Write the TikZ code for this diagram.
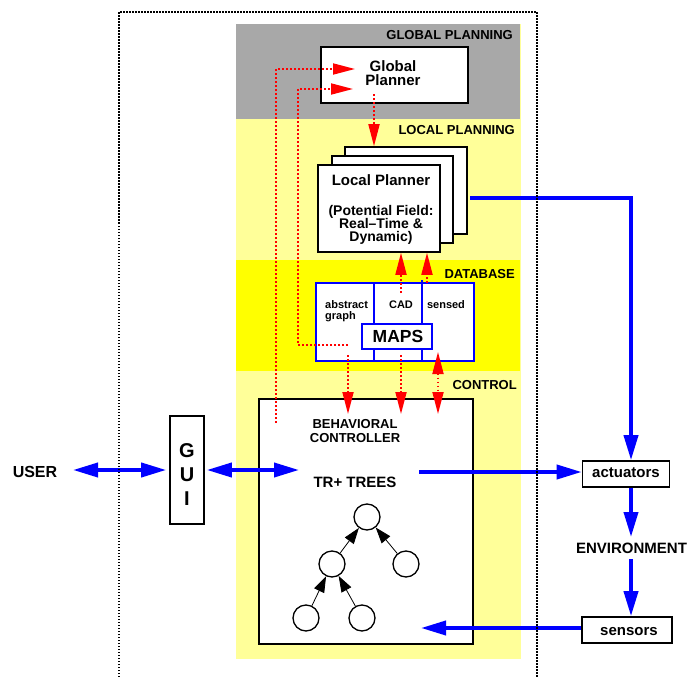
\documentclass[tikz,border=0pt]{standalone}
\usepackage{fontspec}
\setmainfont{Liberation Sans}
\usetikzlibrary{arrows.meta}
\definecolor{bandgray}{RGB}{168,168,168}
\definecolor{paleyellow}{RGB}{255,255,153}
\definecolor{dbyellow}{RGB}{255,255,0}
\tikzset{
  bluetip/.tip={Triangle[length=25pt,width=14pt]},
  redtip/.tip={Triangle[length=22pt,width=11pt]},
  treetip/.tip={Triangle[length=16pt,width=11pt]}}
\begin{document}
\begin{tikzpicture}[x=1pt,y=-1pt,
  txt/.style={inner sep=0pt, anchor=base},
  f11/.style={font=\bfseries\fontsize{11}{13}\selectfont},
  f13/.style={font=\bfseries\fontsize{13}{15}\selectfont},
  f14/.style={font=\bfseries\fontsize{14}{16}\selectfont},
  f15/.style={font=\bfseries\fontsize{15}{17}\selectfont},
  f16/.style={font=\bfseries\fontsize{16}{18}\selectfont},
  f17/.style={font=\bfseries\fontsize{17.5}{19}\selectfont},
  f20/.style={font=\bfseries\fontsize{20}{22}\selectfont},
  blackbox/.style={draw=black, fill=white, line width=1.6pt, inner sep=0pt},
  bluebox/.style={draw=blue, fill=white, line width=1.5pt, inner sep=0pt},
  treenode/.style={circle, draw=black, fill=white, line width=1.3pt, minimum size=26pt, inner sep=0pt},
  treearrow/.style={line width=0.8pt, -treetip},
  bluearrow/.style={blue, line width=3.8pt},
  redflow/.style={red, line width=1.8pt, dash pattern=on 1.8pt off 2.2pt},
  outline/.style={black, line width=1.5pt, dash pattern=on 1.5pt off 1.5pt}]

\useasboundingbox (0,0) rectangle (699,677);

% layer bands
\fill[paleyellow] (236,24) rectangle (521,659);
\fill[bandgray] (236,24) rectangle (520,119);
\fill[dbyellow] (236,260) rectangle (520,371);

% band titles
\node[txt, f13, anchor=base east] (tglobal) at (513,40) {GLOBAL PLANNING};
\node[txt, f13, anchor=base east] (tlocal) at (515,134) {LOCAL PLANNING};
\node[txt, f13, anchor=base east] (tdb) at (515,278) {DATABASE};
\node[txt, f13, anchor=base east] (tctrl) at (517,389) {CONTROL};

% global planner
\node[blackbox, minimum width=147pt, minimum height=56pt] (gp) at (394.5,75) {};
\node[txt, f15] (gpa) at (393,71) {Global};
\node[txt, f15] (gpb) at (393,85.5) {Planner};

% local planner (stack of three sheets)
\node[blackbox, minimum width=122pt, minimum height=87pt] (lpback) at (406,190.5) {};
\node[blackbox, minimum width=121pt, minimum height=87pt] (lpmid) at (392.5,199.5) {};
\node[blackbox, minimum width=122pt, minimum height=87pt] (lp) at (379,208.5) {};
\node[txt, f15] (lpa) at (381,185) {Local Planner};
\node[txt, f14] (lpb) at (381,215) {(Potential Field:};
\node[txt, f14] (lpc) at (381,228) {Real–Time \&};
\node[txt, f14] (lpd) at (381,241) {Dynamic)};

% maps database
\node[bluebox, minimum width=158pt, minimum height=78pt] (maps) at (395,322) {};
\draw[blue, line width=1.5pt] (374,283) -- (374,361);
\draw[blue, line width=1.5pt] (422,280) -- (422,361);
\node[txt, f11, anchor=base west] (mga) at (325,308) {abstract};
\node[txt, f11, anchor=base west] (mgb) at (325,319) {graph};
\node[txt, f11] (mcad) at (401,308) {CAD};
\node[txt, f11] (msens) at (446,308) {sensed};
\node[bluebox, line width=1.8pt, minimum width=70pt, minimum height=25pt] (mapsin) at (397,336.5) {};
\node[txt, f17] (mapst) at (398,342) {MAPS};

% behavioral controller
\node[blackbox, minimum width=214pt, minimum height=245pt] (bc) at (366,521.5) {};
\node[txt, f13] (bca) at (355,428) {BEHAVIORAL};
\node[txt, f13] (bcb) at (355,442) {CONTROLLER};
\node[txt, f15] (trt) at (355,487) {TR+ TREES};

% TR+ tree
\node[treenode] (t0) at (367,517) {};
\node[treenode] (t1) at (332,564) {};
\node[treenode] (t2) at (406,564) {};
\node[treenode] (t3) at (306,618) {};
\node[treenode] (t4) at (362,618) {};
\draw[treearrow] (t1) -- (t0);
\draw[treearrow] (t2) -- (t0);
\draw[treearrow] (t3) -- (t1);
\draw[treearrow] (t4) -- (t1);

% GUI and user
\node[blackbox, minimum width=34pt, minimum height=108pt] (gui) at (187,470) {};
\node[txt, f20] (gg) at (187,457) {G};
\node[txt, f20] (gu) at (187,481.5) {U};
\node[txt, f20] (gi) at (187,505) {I};
\node[txt, f16] (user) at (35,477) {USER};

% actuators, environment, sensors
\node[blackbox, minimum width=87pt, minimum height=26pt] (act) at (626,474) {};
\node[txt, f15] (actt) at (626,477.5) {actuators};
\node[txt, f15] (env) at (631.5,553) {ENVIRONMENT};
\node[blackbox, minimum width=90pt, minimum height=26pt] (sen) at (627,630) {};
\node[txt, f15] (sent) at (629,635.5) {sensors};

% blue data flow
\coordinate (userr) at (73,470);
\coordinate (bcin) at (299,470);
\coordinate (trout) at (419,472);
\coordinate (senin) at (421,628);
\coordinate (lpout) at (470,198);
\coordinate (bend) at (631,198);
\coordinate (envtop) at (631,537);
\coordinate (envbot) at (631,559);
\draw[bluearrow, bluetip-bluetip] (userr) -- ([xshift=-3pt]gui.west);
\draw[bluearrow, bluetip-bluetip] ([xshift=2pt]gui.east) -- (bcin);
\draw[bluearrow, -bluetip] (trout) -- (trout -| act.west);
\draw[bluearrow, -bluetip] (senin -| sen.west) -- (senin);
\draw[bluearrow, -bluetip] (lpout) -- (bend) -- (bend |- act.north);
\draw[bluearrow, -bluetip] (bend |- act.south) -- (envtop);
\draw[bluearrow, -bluetip] (envbot) -- (envbot |- sen.north);

% red dotted information flow
\coordinate (r1s) at (276,423);
\coordinate (r1e) at (355,69);
\coordinate (r2s) at (348,345);
\coordinate (r2m) at (298,345);
\coordinate (r2e) at (353,89);
\coordinate (g1) at (374,94);
\draw[redflow, -redtip] (r1s) |- (r1e);
\draw[redflow, -redtip] (r2s) -- (r2m) |- (r2e);
\draw[redflow, -redtip] (g1) -- (g1 |- lpback.north);
\coordinate (c1) at (401,293);
\coordinate (c2) at (427,283);
\draw[redflow, -redtip] (c1) -- (c1 |- lp.south);
\draw[redflow, -redtip] (c2) -- (c2 |- lp.south);
\coordinate (d1) at (348,355);
\coordinate (d2) at (401,355);
\coordinate (d3) at (438,352);
\coordinate (dend) at (0,414);
\draw[redflow, -redtip] (d1) -- (d1 |- dend);
\draw[redflow, -redtip] (d2) -- (d2 |- dend);
\draw[redflow, redtip-redtip] (d3) -- (d3 |- dend);

% outer system boundary
\draw[outline] (119,677) -- (119,12) -- (537,12) -- (537,677);
\end{tikzpicture}
\end{document}
